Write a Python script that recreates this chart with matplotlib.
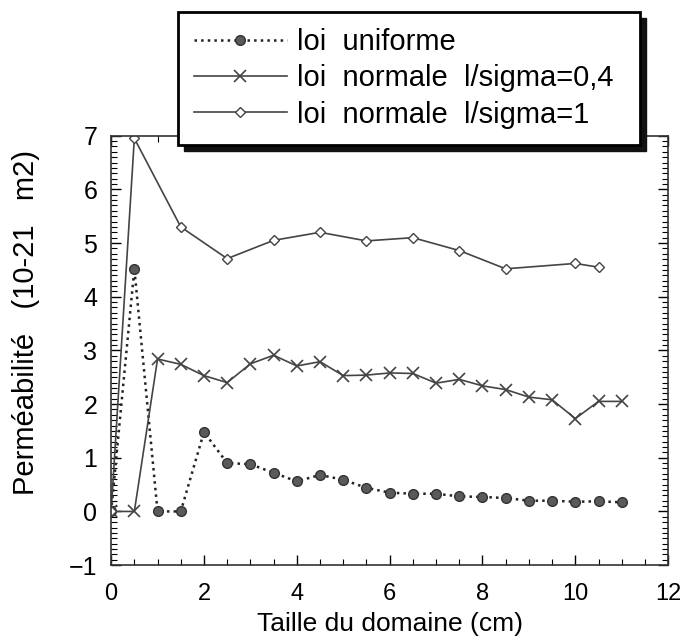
import matplotlib.pyplot as plt
from matplotlib.ticker import MultipleLocator
from matplotlib.patches import Rectangle

plt.rcParams['font.family'] = ['Liberation Sans', 'DejaVu Sans']

# Données
x_unif = [0, 0.5, 1, 1.5, 2, 2.5, 3, 3.5, 4, 4.5, 5, 5.5, 6, 6.5, 7, 7.5, 8, 8.5, 9, 9.5, 10, 10.5, 11]
y_unif = [0, 4.52, 0, 0, 1.48, 0.9, 0.88, 0.72, 0.56, 0.68, 0.59, 0.44, 0.35, 0.33, 0.33, 0.28, 0.27, 0.25, 0.2, 0.2, 0.18, 0.19, 0.17]

x_n04 = [0, 0.5, 1, 1.5, 2, 2.5, 3, 3.5, 4, 4.5, 5, 5.5, 6, 6.5, 7, 7.5, 8, 8.5, 9, 9.5, 10, 10.5, 11]
y_n04 = [0, 0, 2.84, 2.74, 2.53, 2.4, 2.75, 2.91, 2.71, 2.79, 2.53, 2.54, 2.58, 2.57, 2.39, 2.46, 2.34, 2.27, 2.13, 2.08, 1.73, 2.05, 2.05]

x_n1 = [0, 0.5, 1.5, 2.5, 3.5, 4.5, 5.5, 6.5, 7.5, 8.5, 10, 10.5]
y_n1 = [0, 6.95, 5.3, 4.71, 5.05, 5.2, 5.04, 5.1, 4.86, 4.52, 4.62, 4.55]

fig = plt.figure(figsize=(6.86, 6.4), dpi=100)
ax = fig.add_axes([0.162, 0.117, 0.812, 0.671])

l1, = ax.plot(x_unif, y_unif, ls=':', color='#222222', lw=1.8, marker='o', ms=7,
              mfc='#5a5a5a', mec='#333333', label='loi  uniforme')
l2, = ax.plot(x_n04, y_n04, ls='-', color='#444444', lw=1.2, marker='x', ms=8,
              mec='#444444', mew=1.2, label='loi  normale  l/sigma=0,4')
l3, = ax.plot(x_n1, y_n1, ls='-', color='#444444', lw=1.2, marker='D', ms=5.5,
              mfc='white', mec='#444444', mew=1.0, label='loi  normale  l/sigma=1')

ax.set_xlim(0, 12)
ax.set_ylim(-1, 7)
ax.xaxis.set_major_locator(MultipleLocator(2))
ax.xaxis.set_minor_locator(MultipleLocator(0.5))
ax.yaxis.set_major_locator(MultipleLocator(1))
ax.yaxis.set_minor_locator(MultipleLocator(0.1))
ax.tick_params(which='both', direction='in', top=True, right=True)
ax.tick_params(axis='y', pad=10, labelsize=18)
ax.tick_params(axis='x', pad=13, labelsize=17)
ax.tick_params(which='major', length=7, width=1)
ax.tick_params(which='minor', length=4, width=0.8)
for s in ax.spines.values():
    s.set_linewidth(1.2)
    s.set_color('#333333')

ax.set_xlabel('Taille du domaine (cm)', fontsize=19, labelpad=5)
ax.set_ylabel('Perméabilité   (10-21   m2)', fontsize=21)
ax.yaxis.set_label_coords(-0.127, 0.566)

leg = fig.legend(handles=[l1, l2, l3], loc='upper left',
                 bbox_to_anchor=(0.259, 0.773, 0.674, 0.208), mode='expand',
                 fontsize=21, frameon=True, fancybox=False, shadow=False,
                 edgecolor='black', handlelength=3.2, labelspacing=0.28, borderpad=0.55,
                 handletextpad=0.35, framealpha=1, borderaxespad=0)
leg.get_frame().set_linewidth(2)
leg.set_zorder(10)

# ombre portée du cadre de légende
fig.canvas.draw()
bb = leg.get_frame().get_window_extent().transformed(fig.transFigure.inverted())
dx, dy = 6 / 686, 6 / 640
fig.patches.append(Rectangle((bb.x0 + dx, bb.y0 - dy), bb.width, bb.height,
                             transform=fig.transFigure, color='#111111', zorder=9))

fig.savefig('out.png', dpi=100)
